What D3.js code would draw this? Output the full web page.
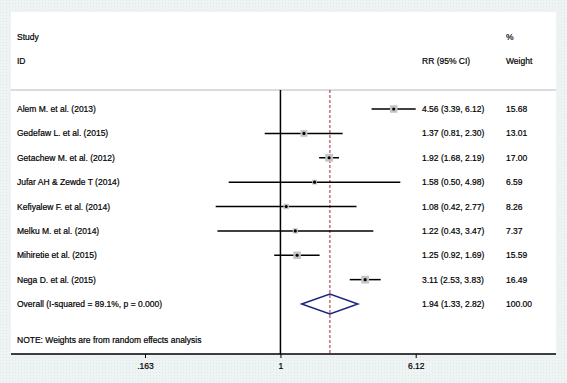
<!DOCTYPE html>
<meta charset="utf-8">
<script src="https://d3js.org/d3.v7.min.js"></script>
<style>
  body { margin: 0; }
  text { font-family: "Liberation Sans", Arial, sans-serif; font-size: 8.5px; fill: #000; stroke: #000; stroke-width: 0.2px; }
</style>
<div id="forest"></div>
<script>

// study data
var studies = ["Alem M. et al. (2013)", "Gedefaw L. et al. (2015)", "Getachew M. et al. (2012)",
  "Jufar AH & Zewde T (2014)", "Kefiyalew F. et al. (2014)", "Melku M. et al. (2014)",
  "Mihiretie et al. (2015)", "Nega D. et al. (2015)"];
var rr    = [4.56, 1.37, 1.92, 1.58, 1.08, 1.22, 1.25, 3.11];
var lower = [3.39, 0.81, 1.68, 0.50, 0.42, 0.43, 0.92, 2.53];
var upper = [6.12, 2.30, 2.19, 4.98, 2.77, 3.47, 1.69, 3.83];
var weights = ["15.68", "13.01", "17.00", "6.59", "8.26", "7.37", "15.59", "16.49"];

var overall = {label: "Overall  (I-squared = 89.1%, p = 0.000)", rr: 1.94, lo: 1.33, hi: 2.82, weight: "100.00"};
var tickValues = [0.163, 1, 6.12];
var tickLabels = [".163", "1", "6.12"];

var W = 567, H = 383;

var svg = d3.select("#forest").append("svg")
    .attr("width", W)
    .attr("height", H);

// dotted background texture
var pat = svg.append("defs").append("pattern")
    .attr("id", "dots")
    .attr("width", 3).attr("height", 3)
    .attr("patternUnits", "userSpaceOnUse");
pat.append("rect").attr("width", 3).attr("height", 3).attr("fill", "#eef3f3");
pat.append("rect").attr("width", 1).attr("height", 1).attr("fill", "#dfe7e7");

svg.append("rect")
    .attr("width", W).attr("height", H)
    .attr("fill", "url(#dots)");

// white plot panel
var panel = {left: 11, right: 556, top: 12, bottom: 354};
svg.append("rect")
    .attr("x", panel.left).attr("y", panel.top)
    .attr("width", panel.right - panel.left)
    .attr("height", panel.bottom - panel.top)
    .attr("fill", "#fff");

// scales
var x = d3.scaleLog()
    .domain([0.163, 6.12])
    .range([145, 415.7]);

var rows = studies.concat(["overall"]);
var y = d3.scalePoint()
    .domain(d3.range(rows.length))
    .range([109, 304]);

var colStudy = 17, colRR = 422, colW = 506;
var headerLine = 90;

// headers
svg.append("text").attr("x", colStudy).attr("y", 40).text("Study");
svg.append("text").attr("x", colStudy).attr("y", 64).text("ID");
svg.append("text").attr("x", colRR).attr("y", 64).text("RR (95% CI)");
svg.append("text").attr("x", colW).attr("y", 40).text("%");
svg.append("text").attr("x", colW).attr("y", 64).text("Weight");

svg.append("line")
    .attr("x1", panel.left).attr("x2", panel.right)
    .attr("y1", headerLine).attr("y2", headerLine)
    .attr("stroke", "#b4b8c4")
    .attr("stroke-width", 1);

// null line
svg.append("line")
    .attr("x1", x(1)).attr("x2", x(1))
    .attr("y1", headerLine).attr("y2", panel.bottom)
    .attr("stroke", "#000")
    .attr("stroke-width", 1.5);

// overall effect line
svg.append("line")
    .attr("x1", x(overall.rr)).attr("x2", x(overall.rr))
    .attr("y1", headerLine).attr("y2", panel.bottom)
    .attr("stroke", "#a3262c")
    .attr("stroke-width", 1)
    .attr("stroke-dasharray", "3,2");

// study rows
var fmt = d3.format(".2f");
var boxSize = function(w) { return 1.9 * Math.sqrt(+w); };

var g = svg.append("g").selectAll("g")
    .data(studies)
    .enter()
    .append("g");

g.append("line")
    .attr("x1", function(d, i) { return x(lower[i]); })
    .attr("x2", function(d, i) { return x(upper[i]); })
    .attr("y1", function(d, i) { return y(i); })
    .attr("y2", function(d, i) { return y(i); })
    .attr("stroke", "#000")
    .attr("stroke-width", 1.5);

g.append("rect")
    .attr("x", function(d, i) { return x(rr[i]) - boxSize(weights[i]) / 2; })
    .attr("y", function(d, i) { return y(i) - boxSize(weights[i]) / 2; })
    .attr("width", function(d, i) { return boxSize(weights[i]); })
    .attr("height", function(d, i) { return boxSize(weights[i]); })
    .attr("fill", "#c4c4c4");

g.append("circle")
    .attr("cx", function(d, i) { return x(rr[i]); })
    .attr("cy", function(d, i) { return y(i); })
    .attr("r", 1.6)
    .attr("fill", "#000");

g.append("text")
    .attr("x", colStudy)
    .attr("y", function(d, i) { return y(i) + 3; })
    .text(function(d) { return d; });

g.append("text")
    .attr("x", colRR)
    .attr("y", function(d, i) { return y(i) + 3; })
    .text(function(d, i) { return fmt(rr[i]) + " (" + fmt(lower[i]) + ", " + fmt(upper[i]) + ")"; });

g.append("text")
    .attr("x", colW)
    .attr("y", function(d, i) { return y(i) + 3; })
    .text(function(d, i) { return weights[i]; });

// overall diamond
var oy = y(studies.length);
svg.append("path")
    .attr("d", "M" + x(overall.lo) + "," + oy +
               "L" + x(overall.rr) + "," + (oy - 10) +
               "L" + x(overall.hi) + "," + oy +
               "L" + x(overall.rr) + "," + (oy + 10) + "Z")
    .attr("fill", "none")
    .attr("stroke", "#1b2580")
    .attr("stroke-width", 1.5);

svg.append("text").attr("x", colStudy).attr("y", oy + 3).text(overall.label);
svg.append("text").attr("x", colRR).attr("y", oy + 3)
    .text(fmt(overall.rr) + " (" + fmt(overall.lo) + ", " + fmt(overall.hi) + ")");
svg.append("text").attr("x", colW).attr("y", oy + 3).text(overall.weight);

svg.append("text").attr("x", colStudy).attr("y", 343)
    .text("NOTE: Weights are from random effects analysis");

// x axis
var axis = svg.append("g")
    .attr("transform", "translate(0," + panel.bottom + ")")
    .call(d3.axisBottom(x)
      .tickValues(tickValues)
      .tickFormat(function(d, i) { return tickLabels[i]; })
      .tickSize(4)
      .tickPadding(5));
axis.select(".domain").remove();
axis.selectAll(".tick line").attr("stroke", "#000").attr("stroke-width", 1);
axis.selectAll(".tick text")
    .style("font-family", "Liberation Sans, Arial, sans-serif")
    .style("font-size", "8.5px")
    .attr("fill", "#000");

svg.append("line")
    .attr("x1", panel.left).attr("x2", panel.right)
    .attr("y1", panel.bottom).attr("y2", panel.bottom)
    .attr("stroke", "#000")
    .attr("stroke-width", 1.5);

</script>
